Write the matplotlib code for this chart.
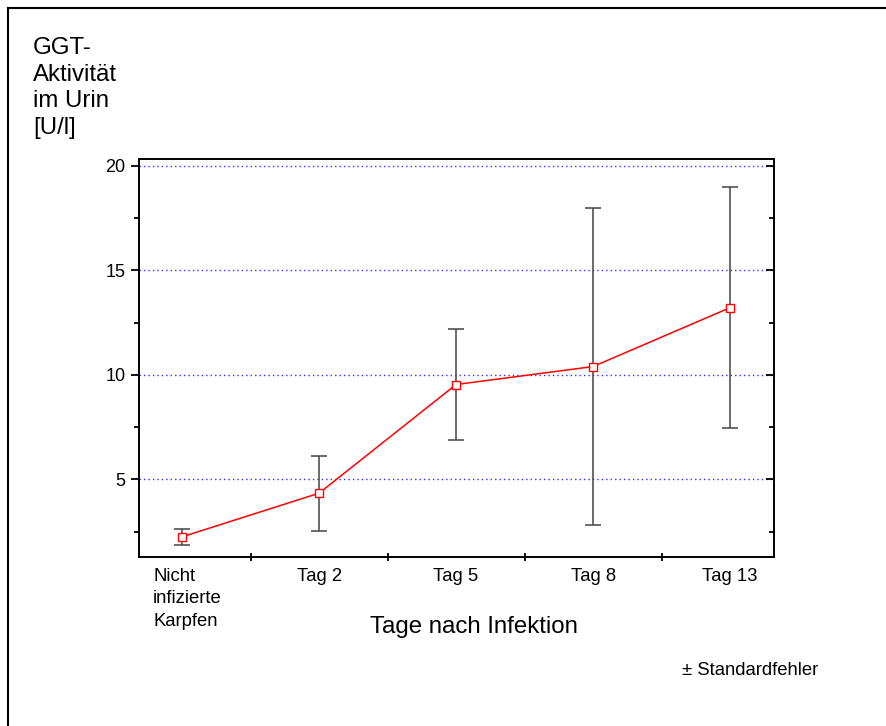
import matplotlib.pyplot as plt
from matplotlib.lines import Line2D
from matplotlib.ticker import MultipleLocator, FixedLocator
import matplotlib.transforms as mtransforms

plt.rcParams['font.family'] = ['Liberation Sans', 'DejaVu Sans']

# Data
categories = ['Nicht\ninfizierte\nKarpfen', 'Tag 2', 'Tag 5', 'Tag 8', 'Tag 13']
means = [2.25, 4.34, 9.54, 10.40, 13.22]
errors = [0.37, 1.80, 2.65, 7.60, 5.77]
y_ticks = [5, 10, 15, 20]

fig = plt.figure(figsize=(8.87, 7.26), dpi=100)
ax = fig.add_axes([0.157, 0.2332, 0.716, 0.5474])

x = list(range(len(categories)))

# error bars first, then the red line with open squares on top
ax.errorbar(x, means, yerr=errors, fmt='none', ecolor='#444444',
            elinewidth=1.1, capsize=6, capthick=1.1, zorder=2)
ax.plot(x, means, color='red', lw=1.1, marker='s', markersize=5.3,
        markerfacecolor='white', markeredgecolor='red', markeredgewidth=1.0,
        zorder=3)

ax.set_xlim(-0.312, 4.323)
ax.set_ylim(1.3, 20.32)

# dotted blue gridlines
for v in y_ticks:
    ax.axhline(v, color='#3030ff', lw=1.0, linestyle=(0, (1, 2.2)), zorder=1)

# y axis ticks: left outward, right inward
ax.yaxis.set_major_locator(FixedLocator(y_ticks))
ax.yaxis.set_minor_locator(MultipleLocator(2.5))
ax.tick_params(axis='y', which='major', direction='out', length=6, width=1.3,
               labelsize=13, pad=4, right=True)
ax.tick_params(axis='y', which='minor', direction='out', length=3.5, width=1.3,
               right=True)
ax.tick_params(axis='y', which='both', labelright=False)

# x axis: labels at points, separator ticks between categories
ax.set_xticks(x)
ax.set_xticklabels(categories)
ax.xaxis.set_minor_locator(FixedLocator([0.5, 1.5, 2.5, 3.5]))
ax.tick_params(axis='x', which='major', length=0, labelsize=13.3, pad=8)
ax.tick_params(axis='x', which='minor', direction='inout', length=6, width=1.3)

for lab in ax.get_xticklabels():
    lab.set_va('top')
first = ax.get_xticklabels()[0]
first.set_ha('left')
first.set_multialignment('left')
first.set_linespacing(1.42)
first.set_transform(first.get_transform() +
                    mtransforms.ScaledTranslation(-0.29, 0, fig.dpi_scale_trans))

for s in ax.spines.values():
    s.set_linewidth(1.4)

# right spine ticks point inward
for t in ax.yaxis.get_major_ticks() + ax.yaxis.get_minor_ticks():
    t.tick2line.set_marker(0)

fig.text(33 / 887, 1 - 37 / 726, 'GGT-\nAktivität\nim Urin\n[U/l]',
         fontsize=17.3, ha='left', va='top', linespacing=1.27)
fig.text(474 / 887, 1 - 633 / 726, 'Tage nach Infektion',
         fontsize=17.3, ha='center', va='baseline')
fig.text(682 / 887, 1 - 675 / 726, '± Standardfehler',
         fontsize=13.3, ha='left', va='baseline')

# outer frame (only left and top edges visible)
fig.add_artist(Line2D([8 / 887, 8 / 887], [0, 1 - 8 / 726],
                      transform=fig.transFigure, color='black', lw=1.5))
fig.add_artist(Line2D([8 / 887, 1], [1 - 8 / 726, 1 - 8 / 726],
                      transform=fig.transFigure, color='black', lw=1.5))

fig.savefig('out.png', dpi=100)
